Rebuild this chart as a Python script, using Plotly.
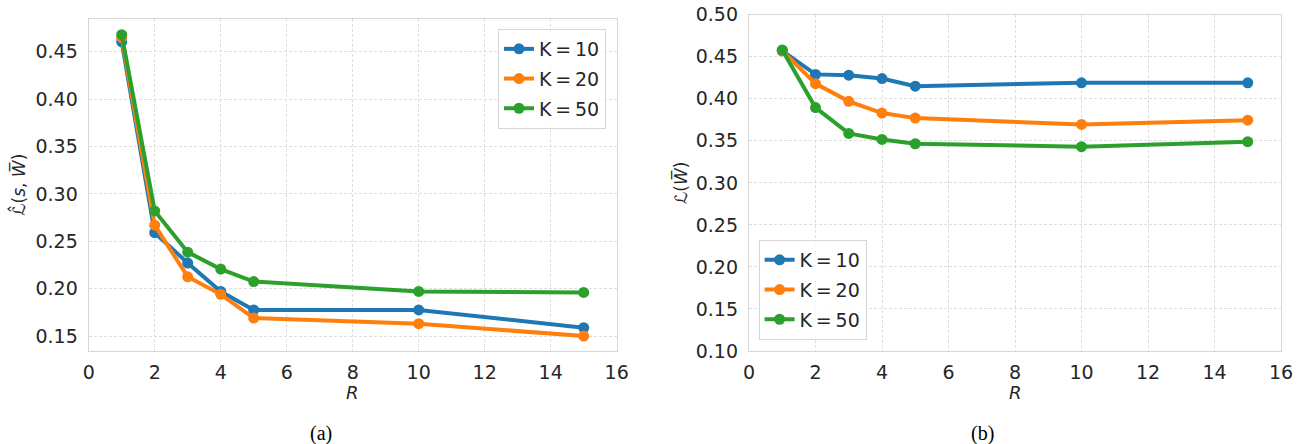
import plotly.graph_objects as go

R = [1, 2, 3, 4, 5, 10, 15]
labels = ["K\u2009=\u200910", "K\u2009=\u200920", "K\u2009=\u200950"]
colors = ["#1f77b4", "#ff7f0e", "#2ca02c"]

# Panel (a): empirical loss
a_k10 = [0.4605, 0.259, 0.227, 0.197, 0.1775, 0.1775, 0.1588]
a_k20 = [0.465, 0.267, 0.2125, 0.194, 0.169, 0.163, 0.150]
a_k50 = [0.468, 0.282, 0.2385, 0.2206, 0.2075, 0.197, 0.196]

# Panel (b): true loss
b_k10 = [0.457, 0.429, 0.428, 0.424, 0.415, 0.419, 0.419]
b_k20 = [0.457, 0.418, 0.397, 0.383, 0.377, 0.3695, 0.3745]
b_k50 = [0.458, 0.3895, 0.3588, 0.3516, 0.3465, 0.343, 0.349]

W, H = 1307, 444
FONT = "DejaVu Sans"
TXT = "#262626"

fig = go.Figure()

for i, (ys, lab) in enumerate(zip([a_k10, a_k20, a_k50], labels)):
    fig.add_trace(go.Scatter(
        x=R, y=ys, mode="lines+markers", name=lab,
        line=dict(color=colors[i], width=4),
        marker=dict(color=colors[i], size=11),
        xaxis="x", yaxis="y", legend="legend", legendgroup="a%d" % i,
    ))
for i, (ys, lab) in enumerate(zip([b_k10, b_k20, b_k50], labels)):
    fig.add_trace(go.Scatter(
        x=R, y=ys, mode="lines+markers", name=lab,
        line=dict(color=colors[i], width=4),
        marker=dict(color=colors[i], size=11),
        xaxis="x2", yaxis="y2", legend="legend2", legendgroup="b%d" % i,
    ))

def px(x):
    return x / W

def py(y):
    return 1 - y / H

axis_common = dict(
    showgrid=True, gridcolor="#dedede", griddash="3px,2px", gridwidth=1,
    showline=True, linecolor="#d6d6d6", linewidth=1.3, mirror=True,
    zeroline=False, ticks="", tickfont=dict(family=FONT, size=19, color=TXT),
    automargin=False,
)

legend_common = dict(
    bgcolor="rgba(255,255,255,0.8)", bordercolor="#d6d6d6", borderwidth=1,
    font=dict(family=FONT, size=19, color=TXT), tracegroupgap=2,
)

fig.update_layout(
    width=W, height=H,
    margin=dict(l=0, r=0, t=0, b=0, autoexpand=False),
    paper_bgcolor="white", plot_bgcolor="white",
    font=dict(family=FONT, color=TXT),
    xaxis=dict(domain=[px(88.7), px(616.7)], range=[0, 16], dtick=2,
               anchor="y", ticklabelstandoff=4, **axis_common),
    yaxis=dict(domain=[py(351), py(19.3)], range=[0.1342, 0.4842],
               tick0=0.15, dtick=0.05, tickformat=".2f", anchor="x",
               ticklabelstandoff=6, **axis_common),
    xaxis2=dict(domain=[px(749), px(1281)], range=[0, 16], dtick=2,
                anchor="y2", ticklabelstandoff=4, **axis_common),
    yaxis2=dict(domain=[py(351), py(14.7)], range=[0.10, 0.50],
                tick0=0.10, dtick=0.05, tickformat=".2f", anchor="x2",
                ticklabelstandoff=6, **axis_common),
    legend=dict(x=px(606), y=py(29), xanchor="right", yanchor="top",
                **legend_common),
    legend2=dict(x=px(758.6), y=py(340), xanchor="left", yanchor="bottom",
                 **legend_common),
    showlegend=True,
)

ann = []
# x-axis titles
for xc in (352.7, 1015):
    ann.append(dict(text="<i>R</i>", x=px(xc), y=py(392), xref="paper", yref="paper",
                    xanchor="center", yanchor="middle", showarrow=False,
                    font=dict(family=FONT, size=18, color=TXT)))
# y-axis titles
ann.append(dict(text="ℒ\u0302(<i>s</i>, <i>W\u0305</i>)", x=px(17.7), y=py(185),
                xref="paper", yref="paper", xanchor="center", yanchor="middle",
                showarrow=False, textangle=-90,
                font=dict(family=FONT, size=17, color=TXT)))
ann.append(dict(text="ℒ(<i>W\u0305</i>)", x=px(680), y=py(183),
                xref="paper", yref="paper", xanchor="center", yanchor="middle",
                showarrow=False, textangle=-90,
                font=dict(family=FONT, size=17, color=TXT)))
# captions
for txt, xc in (("(a)", 321), ("(b)", 982)):
    ann.append(dict(text=txt, x=px(xc), y=py(433), xref="paper", yref="paper",
                    xanchor="center", yanchor="middle", showarrow=False,
                    font=dict(family="Liberation Serif", size=20, color="black")))
fig.update_layout(annotations=ann)

fig.write_html("out.html", config={"displayModeBar": False},
               post_script="document.body.style.margin='0';")
